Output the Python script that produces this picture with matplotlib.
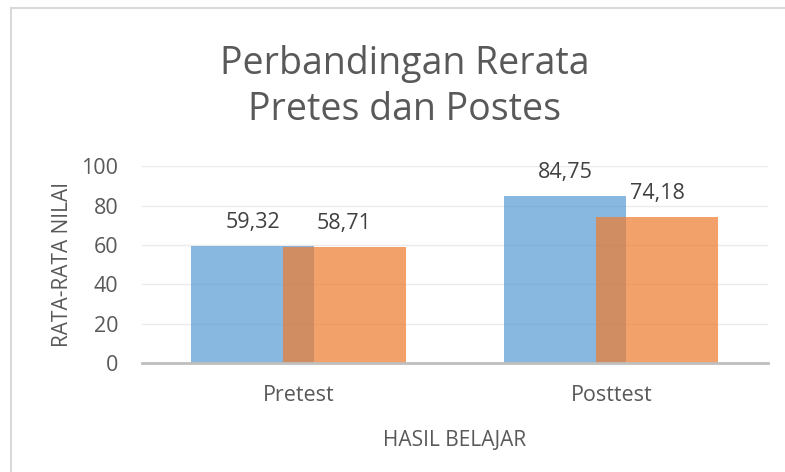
import matplotlib
matplotlib.use('Agg')
import matplotlib.pyplot as plt
from matplotlib.lines import Line2D
import numpy as np

plt.rcParams['font.family'] = ['Open Sans', 'DejaVu Sans']

categories = ['Pretest', 'Posttest']
pretes_vals = [59.32, 84.75]
postes_vals = [58.71, 74.18]
pretes_labels = ['59,32', '84,75']
postes_labels = ['58,71', '74,18']
yticks = [0, 20, 40, 60, 80, 100]

fig = plt.figure(figsize=(7.85, 4.72), dpi=100)
ax = fig.add_axes([0.181, 0.231, 0.797, 0.417])

x = np.arange(len(categories))
w = 0.391
off = 0.147
ax.bar(x - off, pretes_vals, w, color='#5B9BD5', alpha=0.72, zorder=2)
ax.bar(x + off, postes_vals, w, color='#ED7D31', alpha=0.72, zorder=3)

for xi, v, lab in zip(x - off, pretes_vals, pretes_labels):
    ax.text(xi, v + 12, lab, ha='center', va='center', fontsize=15.5, color='#404040')
for xi, v, lab in zip(x + off, postes_vals, postes_labels):
    ax.text(xi, v + 12, lab, ha='center', va='center', fontsize=15.5, color='#404040')

ax.set_xlim(-0.5, 1.5)
ax.set_ylim(0, 100)
ax.set_yticks(yticks)
ax.set_xticks(x)
ax.set_xticklabels(categories)
ax.tick_params(axis='both', length=0, labelsize=15.5, colors='#595959')
ax.tick_params(axis='x', pad=16)
ax.tick_params(axis='y', pad=17)
ax.yaxis.grid(True, color='#EBEBEB', linewidth=1, zorder=0)
ax.set_axisbelow(True)
for s in ['top', 'right', 'left']:
    ax.spines[s].set_visible(False)
ax.spines['bottom'].set_color('#BFBFBF')
ax.spines['bottom'].set_linewidth(2)
ax.spines['bottom'].set_zorder(4)

ax.set_ylabel('RATA-RATA NILAI', fontsize=15, color='#595959', labelpad=6)
ax.set_xlabel('HASIL BELAJAR', fontsize=15, color='#595959', labelpad=17)

fig.text(0.515, 0.815, 'Perbandingan Rerata\nPretes dan Postes', ha='center', va='center',
         fontsize=27, color='#595959', linespacing=1.28)

# chart border (only top and left visible)
fig.add_artist(Line2D([11 / 785, 1], [1 - 8 / 472, 1 - 8 / 472], transform=fig.transFigure,
                      color='#D9D9D9', linewidth=1.5))
fig.add_artist(Line2D([11 / 785, 11 / 785], [0, 1 - 8 / 472], transform=fig.transFigure,
                      color='#D9D9D9', linewidth=1.5))

fig.savefig('out.png', dpi=100)
